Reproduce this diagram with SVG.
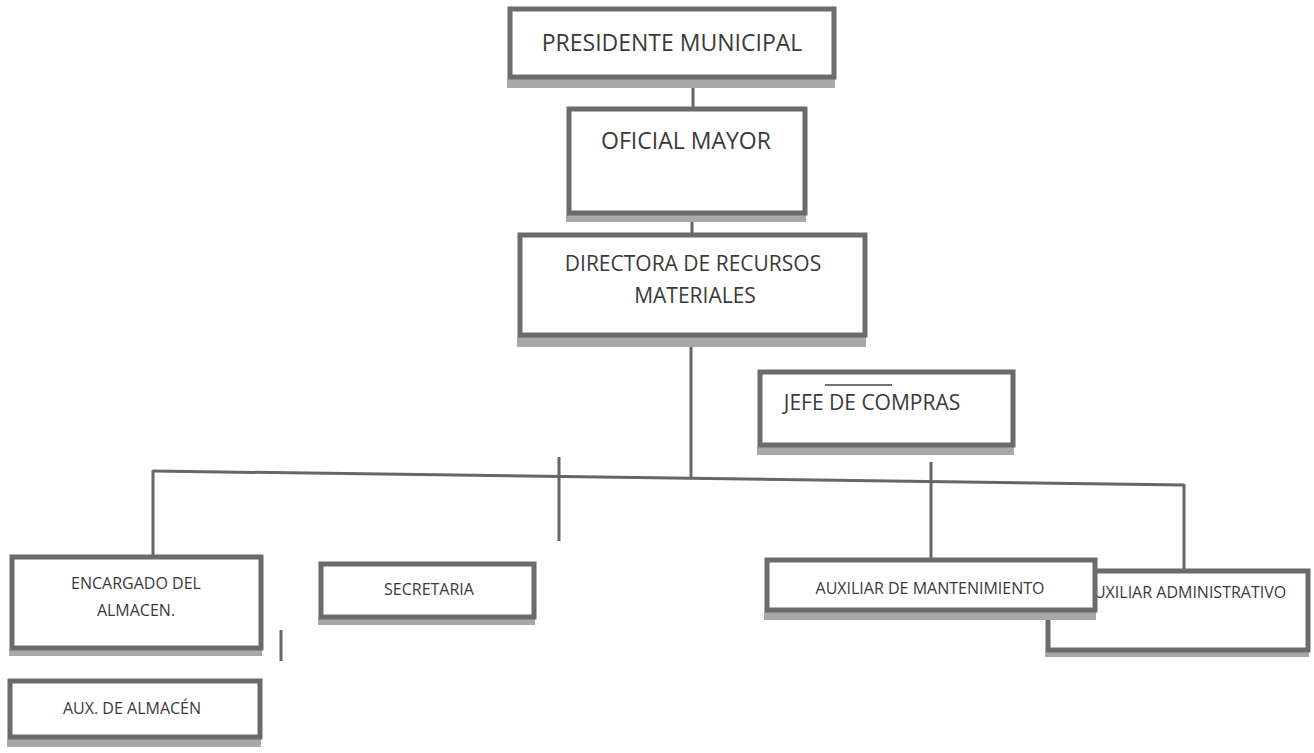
<svg xmlns="http://www.w3.org/2000/svg" width="1314" height="753" viewBox="0 0 1314 753">
<style>
.box{fill:#fff;stroke:#6b6b6b;stroke-width:5}
.sh{fill:#a8a8a8}
.t{font-family:"Open Sans","Liberation Sans",sans-serif;fill:#3a3a3a;text-anchor:middle}
.big{font-size:23px}
.sm{font-size:16px}
.ln{stroke:#666;stroke-width:3;fill:none}
</style>
<rect width="1314" height="753" fill="#fff"/>
<g id="connectors">
<line class="ln" x1="693" y1="88" x2="693" y2="109"/>
<line class="ln" x1="692" y1="222" x2="692" y2="235"/>
<line class="ln" x1="691" y1="347" x2="691" y2="478"/>
<line class="ln" x1="153" y1="471" x2="1184" y2="485"/>
<line class="ln" x1="153" y1="470" x2="153" y2="557"/>
<line class="ln" x1="1184" y1="484" x2="1184" y2="571"/>
<line class="ln" x1="931" y1="462" x2="931" y2="560"/>
<line class="ln" x1="559" y1="457" x2="559" y2="541"/>
<line class="ln" x1="281" y1="630" x2="281" y2="661"/>
</g>
<g id="presidente">
<rect class="sh" x="507" y="79" width="328" height="9"/>
<rect class="box" x="510" y="9" width="324" height="68"/>
<text class="t big" x="672" y="51">PRESIDENTE MUNICIPAL</text>
</g>
<g id="oficial">
<rect class="sh" x="566" y="215" width="240" height="7"/>
<rect class="box" x="569" y="109" width="236" height="104"/>
<text class="t big" x="686" y="149">OFICIAL MAYOR</text>
</g>
<g id="directora">
<rect class="sh" x="517" y="337" width="349" height="10"/>
<rect class="box" x="520" y="235" width="345" height="100"/>
<text class="t" x="693" y="271" style="font-size:21px">DIRECTORA DE RECURSOS</text>
<text class="t" x="695" y="303" style="font-size:21px">MATERIALES</text>
</g>
<g id="jefe">
<rect class="sh" x="757" y="447" width="257" height="8"/>
<rect class="box" x="760" y="372" width="253" height="73"/>
<text class="t" x="872" y="410" style="font-size:21px">JEFE DE COMPRAS</text>
<line x1="825" y1="385" x2="892" y2="385" stroke="#444" stroke-width="1.5"/>
</g>
<g id="encargado">
<rect class="sh" x="9" y="650" width="253" height="6"/>
<rect class="box" x="12" y="557" width="249" height="91"/>
<text class="t sm" x="136" y="589">ENCARGADO DEL</text>
<text class="t sm" x="136" y="616">ALMACEN.</text>
</g>
<g id="secretaria">
<rect class="sh" x="318" y="619" width="217" height="6"/>
<rect class="box" x="321" y="564" width="213" height="53"/>
<text class="t sm" x="429" y="595">SECRETARIA</text>
</g>
<g id="aux-almacen">
<rect class="sh" x="7" y="739" width="254" height="8"/>
<rect class="box" x="10" y="681" width="250" height="56"/>
<text class="t sm" x="132" y="714">AUX. DE ALMACÉN</text>
</g>
<g id="aux-administrativo">
<rect class="sh" x="1045" y="652" width="264" height="5"/>
<rect class="box" x="1048" y="571" width="260" height="79"/>
<text class="t sm" x="1185" y="598">AUXILIAR ADMINISTRATIVO</text>
</g>
<g id="aux-mantenimiento">
<rect class="sh" x="764" y="612" width="332" height="8"/>
<rect class="box" x="767" y="560" width="328" height="50"/>
<text class="t sm" x="930" y="594">AUXILIAR DE MANTENIMIENTO</text>
</g>
</svg>
